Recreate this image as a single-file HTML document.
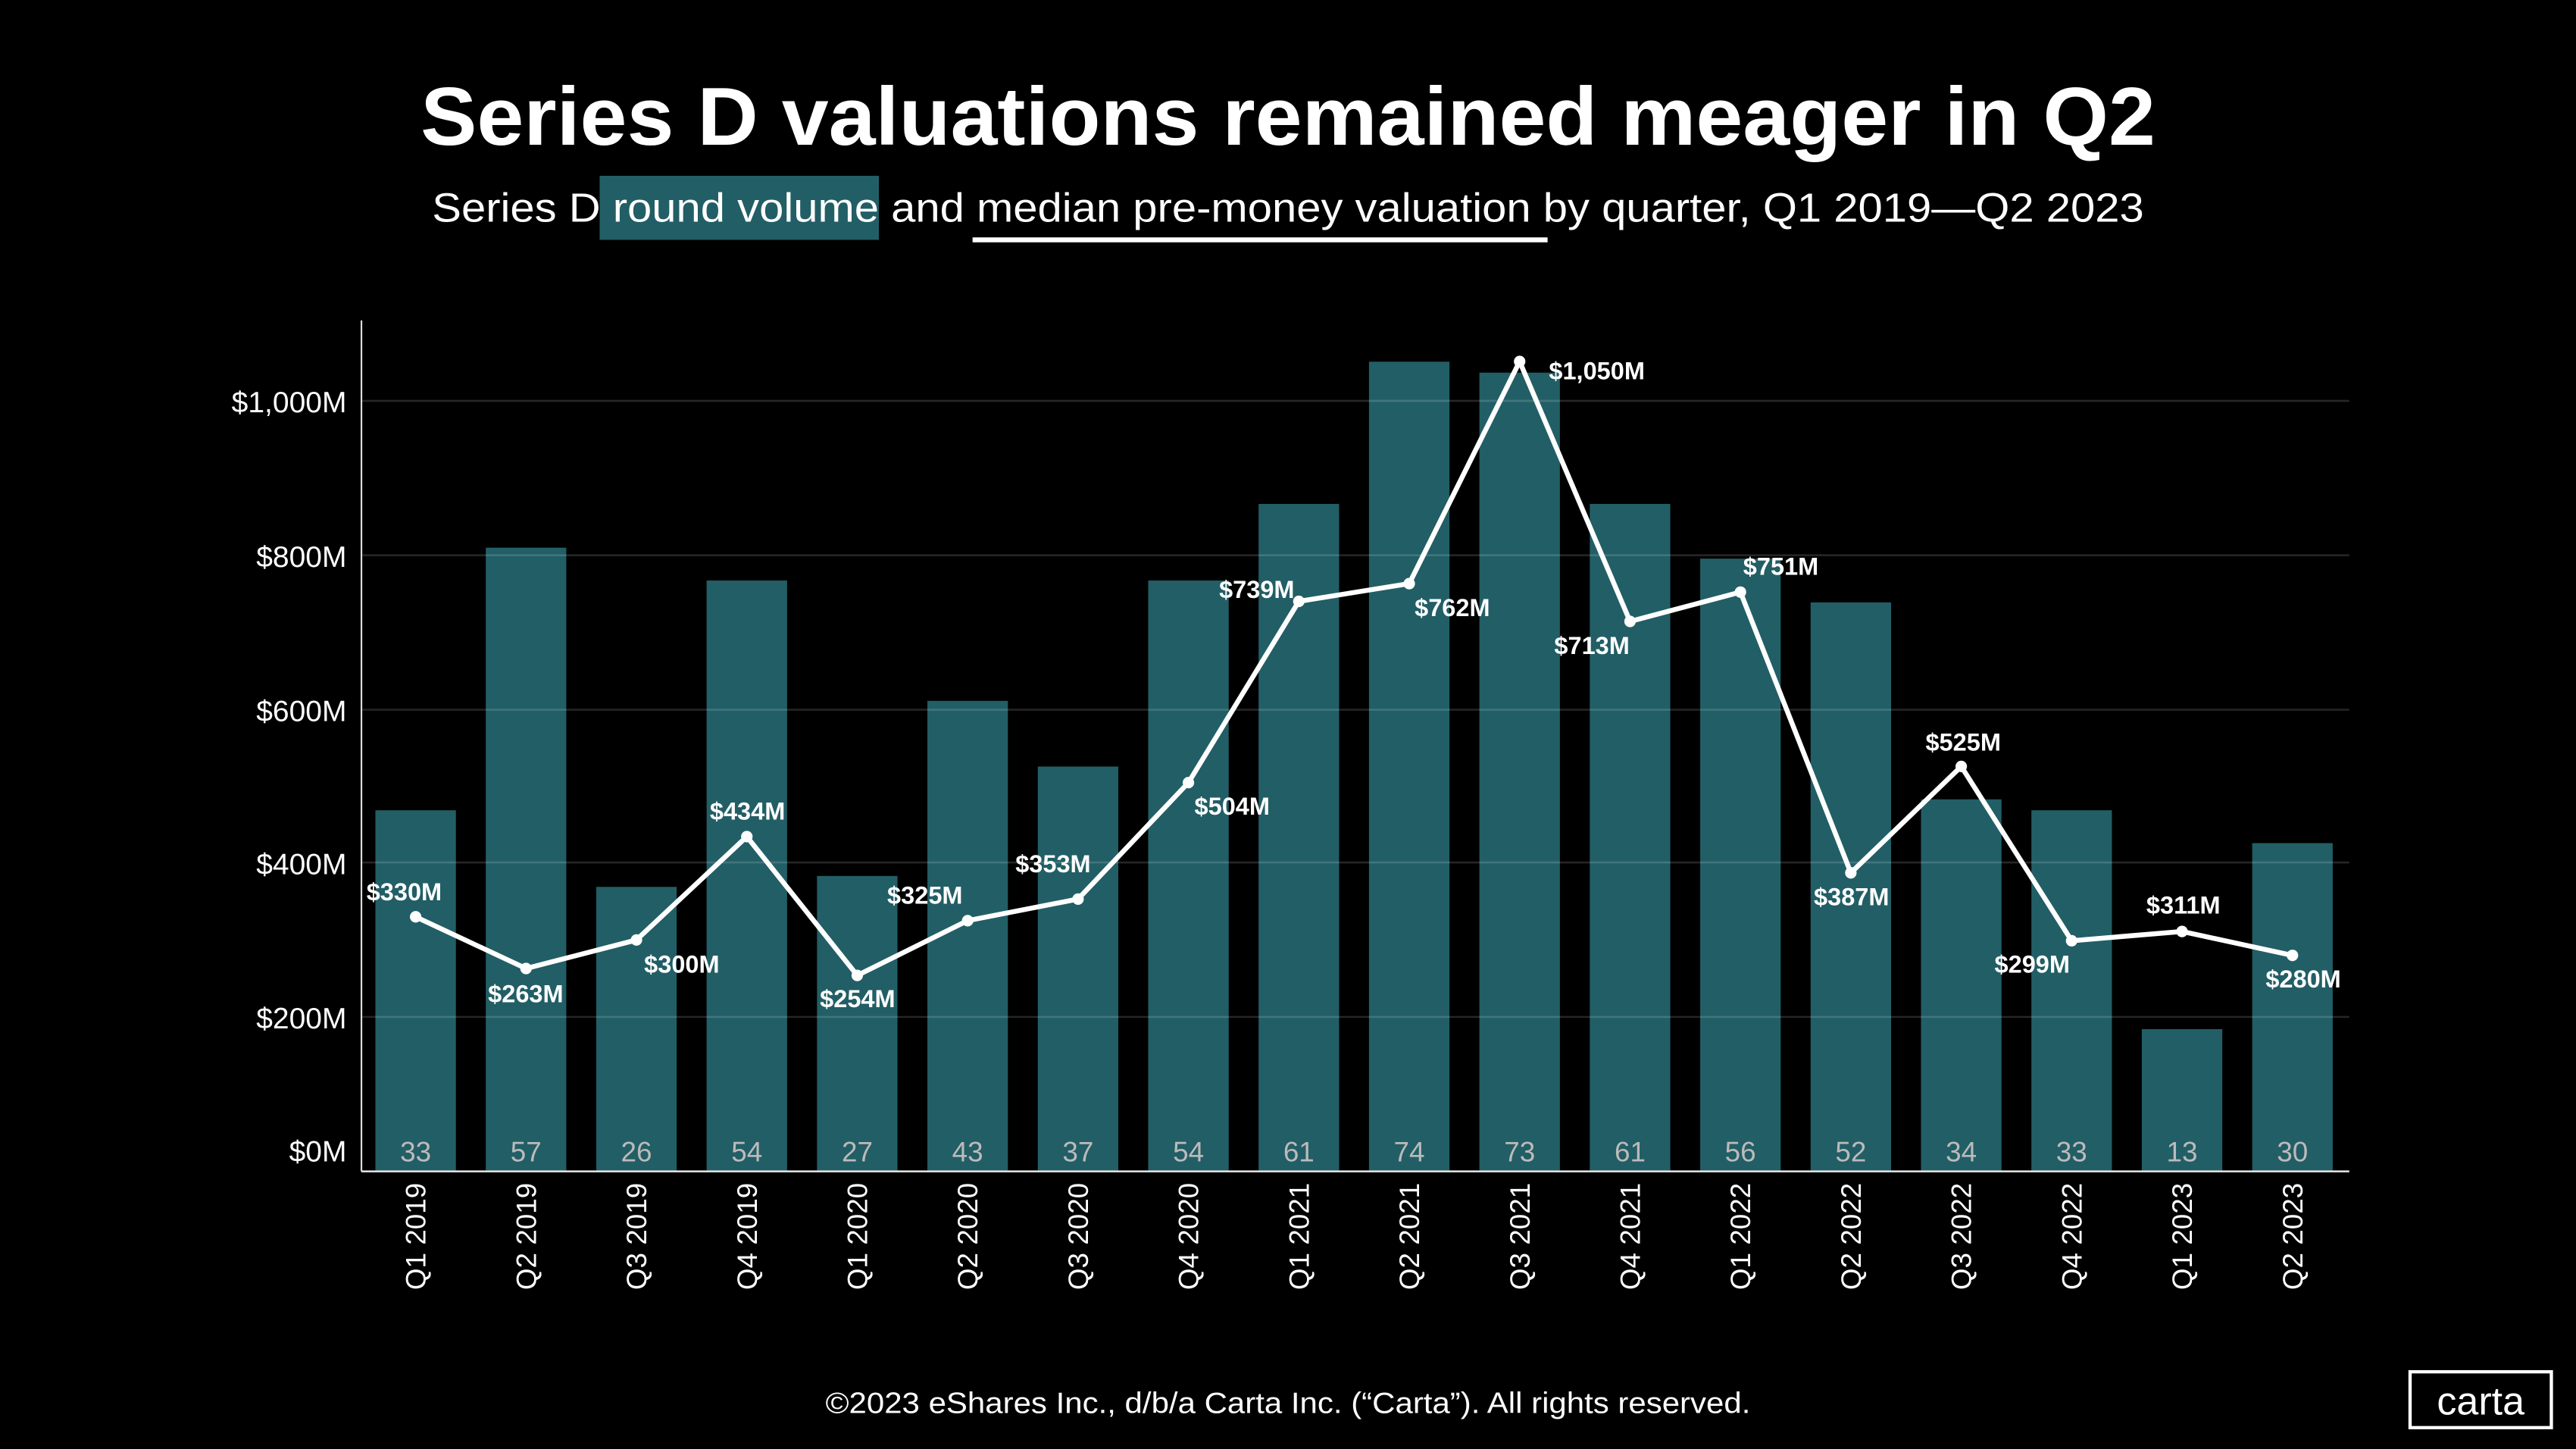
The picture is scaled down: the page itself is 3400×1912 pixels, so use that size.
<!DOCTYPE html>
<html><head><meta charset="utf-8"><style>
html,body{margin:0;padding:0;background:#000;}
svg{display:block;}
text{font-family:"Liberation Sans",sans-serif;}
</style></head><body>
<svg width="3400" height="1912" viewBox="0 0 1568 882" preserveAspectRatio="none" xmlns="http://www.w3.org/2000/svg">
<rect width="1568" height="882" fill="#000"/>
<text x="784" y="88" text-anchor="middle" font-size="50" font-weight="bold" fill="#fff" textLength="1056" lengthAdjust="spacingAndGlyphs">Series D valuations remained meager in Q2</text>
<rect x="365" y="107" width="170" height="39" fill="#225e66"/>
<rect x="592" y="144.5" width="350" height="3" fill="#fff"/>
<text x="784" y="135" text-anchor="middle" font-size="25" fill="#fff" textLength="1042" lengthAdjust="spacingAndGlyphs">Series D round volume and median pre-money valuation by quarter, Q1 2019—Q2 2023</text>
<g id="bars" fill="#225e66"></g>
<g stroke="rgba(255,255,255,0.15)" stroke-width="1.2">
<line x1="220" x2="1430" y1="619" y2="619"/><line x1="220" x2="1430" y1="525" y2="525"/>
<line x1="220" x2="1430" y1="432" y2="432"/><line x1="220" x2="1430" y1="338" y2="338"/>
<line x1="220" x2="1430" y1="244" y2="244"/></g>
<line x1="220" x2="220" y1="195" y2="713" stroke="#ddd" stroke-width="1"/>
<line x1="220" x2="1430" y1="713" y2="713" stroke="#ddd" stroke-width="1.2"/>
<g font-size="18" fill="#fff" text-anchor="end">
<text x="211" y="707">$0M</text><text x="211" y="626">$200M</text><text x="211" y="532">$400M</text>
<text x="211" y="439">$600M</text><text x="211" y="345">$800M</text><text x="211" y="251">$1,000M</text></g>
<g id="dyn"></g>
<text x="784" y="860" text-anchor="middle" font-size="18" fill="#fff" textLength="563" lengthAdjust="spacingAndGlyphs">©2023 eShares Inc., d/b/a Carta Inc. (“Carta”). All rights reserved.</text>
<rect x="1467" y="835" width="86" height="34" fill="none" stroke="#fff" stroke-width="2"/>
<text x="1510" y="861" text-anchor="middle" font-size="24" fill="#fff">carta</text>
<script>
(function(){
var ns="http://www.w3.org/2000/svg";
var q=["Q1 2019","Q2 2019","Q3 2019","Q4 2019","Q1 2020","Q2 2020","Q3 2020","Q4 2020","Q1 2021","Q2 2021","Q3 2021","Q4 2021","Q1 2022","Q2 2022","Q3 2022","Q4 2022","Q1 2023","Q2 2023"];
var c=[33,57,26,54,27,43,37,54,61,74,73,61,56,52,34,33,13,30];
var v=[330,263,300,434,254,325,353,504,739,762,1050,713,751,387,525,299,311,280];
var L=[[246,548],[320,610],[415,592],[455,499],[522,613],[563,550],[641,531],[750,496],[765,364],[884,375],[972,231],[969,398],[1084,350],[1127,551],[1195,457],[1237,592],[1329,556],[1402,601]];
var bars=document.getElementById("bars"),dyn=document.getElementById("dyn");
function el(t,a,p,txt){var e=document.createElementNS(ns,t);for(var k in a)e.setAttribute(k,a[k]);if(txt)e.textContent=txt;p.appendChild(e);return e;}
var pts=[];
for(var i=0;i<18;i++){var x=253+67.2*i;var bt=713-c[i]*6.66;
el("rect",{x:x-24.5,y:bt,width:49,height:713-bt},bars);
el("text",{x:x,y:707,"text-anchor":"middle","font-size":"17",fill:"#bbb"},dyn,""+c[i]);
el("text",{transform:"translate("+(x+6)+",720) rotate(-90)","text-anchor":"end","font-size":"17",fill:"#fff"},dyn,q[i]);
pts.push(x+","+(713-v[i]*0.4695));}
el("polyline",{points:pts.join(" "),fill:"none",stroke:"#fff","stroke-width":"3","stroke-linejoin":"round"},dyn);
for(var i=0;i<18;i++){var p=pts[i].split(",");el("circle",{cx:p[0],cy:p[1],r:3.5,fill:"#fff"},dyn);
var s=v[i]>=1000?"$1,050M":"$"+v[i]+"M";
el("text",{x:L[i][0],y:L[i][1],"text-anchor":"middle","font-size":"15","font-weight":"bold",fill:"#fff"},dyn,s);}
})();
</script>
</svg>
</body></html>
